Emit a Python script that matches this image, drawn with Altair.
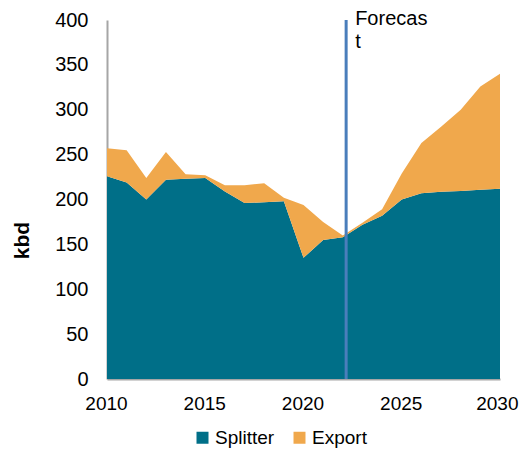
import altair as alt
import pandas as pd

years = list(range(2010, 2031))
splitter = [226, 219, 200, 222, 223, 224, 209, 196, 197, 198, 135, 155, 158, 172, 182, 200, 207, 208.5, 209.5, 211, 212]
export = [31, 36, 24, 31, 5, 3, 7, 20, 21, 4, 59, 20, 2, 2, 7, 29, 56, 72.5, 90.5, 115, 128]
series = ["Splitter", "Export"]
colors = ["#006F88", "#F0A84C"]
forecast_year = 2022.17
forecast_label = ["Forecas", "t"]
x_ticks = [2010, 2015, 2020, 2025, 2030]
y_ticks = [0, 50, 100, 150, 200, 250, 300, 350, 400]

rows = []
for i, y in enumerate(years):
    rows.append({"year": y, "series": "Splitter", "value": splitter[i], "ord": 0})
    rows.append({"year": y, "series": "Export", "value": export[i], "ord": 1})
df = pd.DataFrame(rows)

FONT = "Liberation Sans"
FS = 20

area = alt.Chart(df).mark_area(interpolate="linear").encode(
    x=alt.X("year:Q", scale=alt.Scale(domain=[2010, 2030], nice=False),
            axis=alt.Axis(values=x_ticks, format="d", title=None, grid=False, ticks=False,
                          labelPadding=15, labelFontSize=19, domainColor="#A6A6A6",
                          domainWidth=2, labelColor="#000000", labelFont=FONT,
                          labelFlush=False, labelOverlap=False,
                          labelAlign={"condition": {"test": "datum.value == 2030", "value": "right"}, "value": "center"},
                          labelOffset={"condition": {"test": "datum.value == 2030", "value": 18}, "value": -1})),
    y=alt.Y("value:Q", stack="zero", scale=alt.Scale(domain=[0, 400], nice=False),
            axis=alt.Axis(values=y_ticks, title="kbd", grid=False, ticks=False,
                          labelPadding=19, labelFontSize=FS, domainColor="#A6A6A6",
                          domainWidth=2, labelColor="#000000", labelFont=FONT,
                          labelFlush=False, labelOverlap=False,
                          titleFont=FONT, titleFontSize=21, titleFontWeight="bold",
                          titleColor="#000000", titleX=-85, titleY=220, titleAngle=270,
                          titleBaseline="middle", titleAlign="center")),
    color=alt.Color("series:N", scale=alt.Scale(domain=series, range=colors),
                    legend=alt.Legend(title=None, orient="none", direction="horizontal",
                                      legendX=86, legendY=408, symbolType="square",
                                      symbolSize=144, symbolStrokeWidth=0, labelFontSize=19,
                                      labelFont=FONT, labelColor="#000000", columnPadding=15,
                                      symbolOffset=0, labelOffset=3)),
    order=alt.Order("ord:Q"),
)

rule_df = pd.DataFrame({"x": [forecast_year]})
rule = alt.Chart(rule_df).mark_rule(color="#4A7EBB", strokeWidth=3).encode(
    x="x:Q", y=alt.value(0), y2=alt.value(359)
)
label = alt.Chart(rule_df).mark_text(
    text=forecast_label, align="left", baseline="top", dx=9, fontSize=FS,
    font=FONT, lineHeight=23, color="#000000"
).encode(x="x:Q", y=alt.value(-11))

chart = alt.layer(area, rule, label).properties(
    width=393, height=359,
    autosize=alt.AutoSizeParams(type="none"),
    padding={"left": 99, "top": 12, "right": 19, "bottom": 69},
).configure_view(stroke=None)

chart.save("out.html", embed_options={"renderer": "svg", "actions": False})
